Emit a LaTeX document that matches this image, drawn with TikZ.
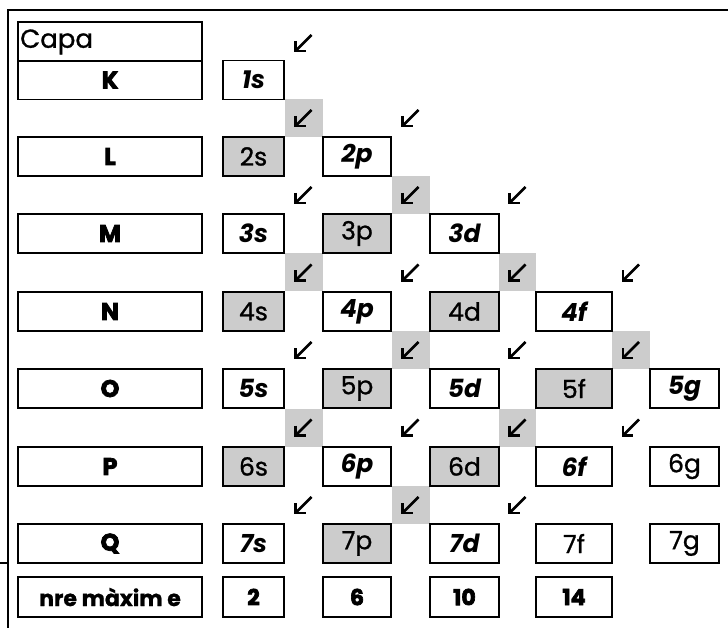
\documentclass[tikz,border=0pt]{standalone}
\usepackage{fontspec}
\setmainfont{Poppins}
\newfontfamily\heavyf[FakeBold=3]{Poppins}
\newfontfamily\medf[FakeBold=1]{Poppins}
\begin{document}
\begin{tikzpicture}[x=1pt,y=-1pt,
  box/.style={draw, line width=1.6pt, minimum height=39pt, inner sep=0pt, anchor=center},
  shell/.style={box, minimum width=184pt, font=\fontsize{24}{24}\heavyf\bfseries},
  cs/.style={box, minimum width=61pt},
  cp/.style={box, minimum width=68pt},
  cd/.style={box, minimum width=69pt},
  cf/.style={box, minimum width=76pt},
  cg/.style={box, minimum width=69pt},
  it/.style={font=\fontsize{25}{25}\selectfont\bfseries\itshape},
  up/.style={font=\fontsize{25}{25}\medf},
  hv/.style={font=\fontsize{22}{22}\heavyf\bfseries},
  sh/.style={fill=black!20},
  gapsq/.style={sh, minimum width=38pt, minimum height=38pt, inner sep=0pt},
  frame/.style={line width=2pt},
  darr/.pic={\draw[line width=2.8pt] (8,-8) -- (-7,7);
             \draw[line width=2.8pt, miter limit=10] (-8,-2) -- (-8,8) -- (2,8);}
]
\useasboundingbox (0,0) rectangle (728,628);
% frame
\coordinate (fbl) at (8,628);
\coordinate (ftl) at (8,10);
\coordinate (ftr) at (728,10);
\coordinate (sl) at (0,563);
\coordinate (sr) at (8,563);
\draw[frame] (fbl) -- (ftl) -- (ftr);
\draw[frame] (sl) -- (sr);

% gray gap squares
\node[gapsq] (q1) at (303.5,118) {};
\node[gapsq] (q2) at (410.5,195) {};
\node[gapsq] (q3) at (303.5,272.5) {};
\node[gapsq, minimum width=37pt] (q4) at (517.5,272.5) {};
\node[gapsq] (q5) at (410.5,350) {};
\node[gapsq] (q6) at (631,350) {};
\node[gapsq] (q7) at (303.5,427.5) {};
\node[gapsq, minimum width=37pt] (q8) at (517.5,427.5) {};
\node[gapsq] (q9) at (410.5,505) {};

% arrows
\foreach \x/\y in {303.5/43, 303.5/118, 410.5/118,
  303.5/195, 410.5/195, 517.5/195,
  303.5/272.5, 410.5/272.5, 517.5/272.5, 631/272.5,
  303.5/350, 410.5/350, 517.5/350, 631/350,
  303.5/427.5, 410.5/427.5, 517.5/427.5, 631/427.5,
  303.5/505, 410.5/505, 517.5/505}
  \pic at (\x,\y) {darr};

% shell column
\node[box, minimum width=184pt] (capa) at (110,41.5) {};
\node[anchor=west, inner sep=0pt, font=\fontsize{26}{26}\medf] (capat) at (20,42) {Capa};
\node[shell] (K) at (110,80) {K};
\node[shell] (L) at (110,156.5) {L};
\node[shell] (M) at (110,233.5) {M};
\node[shell] (N) at (110,311.5) {N};
\node[shell] (O) at (110,388.5) {O};
\node[shell] (P) at (110,466.5) {P};
\node[shell] (Q) at (110,543.5) {Q};
\node[box, minimum width=184pt, minimum height=40pt, font=\fontsize{22}{22}\medf\bfseries] (nre) at (110,597) {nre màxim e};

% row K
\node[cs, it] (s1) at (253.5,80) {1s};
% row L
\node[cs, up, sh] (s2) at (253.5,156.5) {2s};
\node[cp, it] (p2) at (357,156.5) {2p};
% row M
\node[cs, it] (s3) at (253.5,233.5) {3s};
\node[cp, up, sh] (p3) at (357,233.5) {3p};
\node[cd, it] (d3) at (464.5,233.5) {3d};
% row N
\node[cs, up, sh] (s4) at (253.5,311.5) {4s};
\node[cp, it] (p4) at (357,311.5) {4p};
\node[cd, up, sh] (d4) at (464.5,311.5) {4d};
\node[cf, it] (f4) at (574,311.5) {4f};
% row O
\node[cs, it] (s5) at (253.5,388.5) {5s};
\node[cp, up, sh] (p5) at (357,388.5) {5p};
\node[cd, it] (d5) at (464.5,388.5) {5d};
\node[cf, up, sh] (f5) at (574,388.5) {5f};
\node[cg, it] (g5) at (684.5,388.5) {5g};
% row P
\node[cs, up, sh] (s6) at (253.5,466.5) {6s};
\node[cp, it] (p6) at (357,466.5) {6p};
\node[cd, up, sh] (d6) at (464.5,466.5) {6d};
\node[cf, it] (f6) at (574,466.5) {6f};
\node[cg, up] (g6) at (684.5,466.5) {6g};
% row Q
\node[cs, it] (s7) at (253.5,543.5) {7s};
\node[cp, up, sh] (p7) at (357,543.5) {7p};
\node[cd, it] (d7) at (464.5,543.5) {7d};
\node[cf, up] (f7) at (574,543.5) {7f};
\node[cg, up] (g7) at (684.5,543.5) {7g};
% max electrons
\node[cs, hv, minimum height=40pt] (ms) at (253.5,597) {2};
\node[cp, hv, minimum height=40pt] (mp) at (357,597) {6};
\node[cd, hv, minimum height=40pt] (md) at (464.5,597) {10};
\node[cf, hv, minimum height=40pt] (mf) at (574,597) {14};
\end{tikzpicture}
\end{document}
